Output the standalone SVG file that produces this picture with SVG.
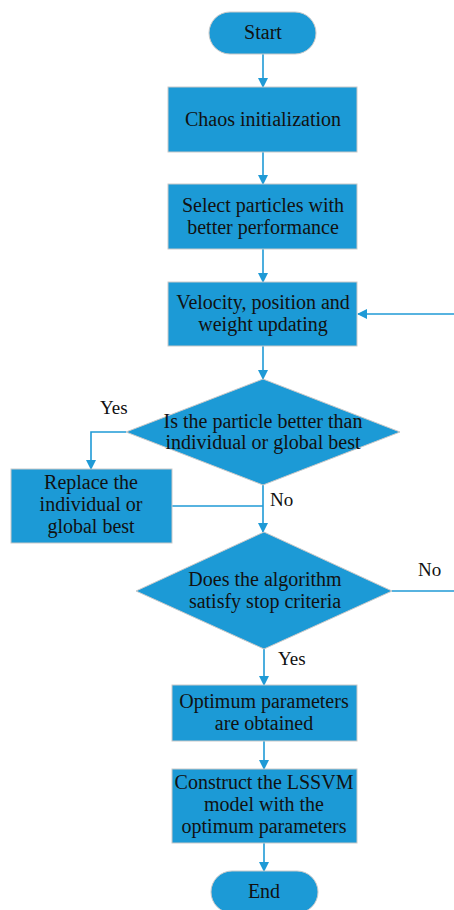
<svg xmlns="http://www.w3.org/2000/svg" width="454" height="910" viewBox="0 0 454 910">
<defs>
<style>
.n{fill:#1c9ad6;stroke:#c9c9c9;stroke-width:1}
.t{font-family:"Liberation Serif","DejaVu Serif",serif;font-size:20px;fill:#111;text-anchor:middle}
.l{font-family:"Liberation Serif","DejaVu Serif",serif;font-size:19px;fill:#111}
.c{fill:none;stroke:#1f9ad6;stroke-width:1.6}
</style>
<marker id="a" markerWidth="10" markerHeight="10" refX="9" refY="5" orient="auto" markerUnits="userSpaceOnUse">
<path d="M0,0 L10,5 L0,10 Z" fill="#1f9ad6"/>
</marker>
</defs>
<rect width="454" height="910" fill="#fff"/>
<g id="connectors">
<path class="c" d="M263,54 V87" marker-end="url(#a)"/>
<path class="c" d="M263,152 V184" marker-end="url(#a)"/>
<path class="c" d="M263,249 V282" marker-end="url(#a)"/>
<path class="c" d="M263,346 V379" marker-end="url(#a)"/>
<path class="c" d="M126,432 H91 V469" marker-end="url(#a)"/>
<path class="c" d="M263,485 V532" marker-end="url(#a)"/>
<path class="c" d="M172,506 H263"/>
<path class="c" d="M392,591 H454"/>
<path class="c" d="M454,314 H358" marker-end="url(#a)"/>
<path class="c" d="M264,649 V685" marker-end="url(#a)"/>
<path class="c" d="M264,741 V769" marker-end="url(#a)"/>
<path class="c" d="M264,843 V871" marker-end="url(#a)"/>
<text class="l" x="100" y="414">Yes</text>
<text class="l" x="270" y="506">No</text>
<text class="l" x="418" y="576">No</text>
<text class="l" x="278" y="665">Yes</text>
</g>
<g id="start"><rect class="n" x="209" y="12" width="107" height="42" rx="21"/><text class="t" x="263" y="39">Start</text></g>
<g id="chaos"><rect class="n" x="168" y="87" width="189" height="65"/><text class="t" x="263" y="126">Chaos initialization</text></g>
<g id="select"><rect class="n" x="168" y="184" width="189" height="65"/><text class="t" x="263" y="212">Select particles with</text><text class="t" x="263" y="234">better performance</text></g>
<g id="velocity"><rect class="n" x="168" y="282" width="189" height="64"/><text class="t" x="263" y="309">Velocity, position and</text><text class="t" x="263" y="331">weight updating</text></g>
<g id="decision1"><polygon class="n" points="263,379 400,432 263,485 126,432"/><text class="t" x="263" y="428">Is the particle better than</text><text class="t" x="263" y="449">individual or global best</text></g>
<g id="replace"><rect class="n" x="11" y="469" width="161" height="74"/><text class="t" x="91" y="489">Replace the</text><text class="t" x="91" y="511">individual or</text><text class="t" x="91" y="533">global best</text></g>
<g id="decision2"><polygon class="n" points="264,532 392,591 264,649 136,591"/><text class="t" x="265" y="586">Does the algorithm</text><text class="t" x="265" y="608">satisfy stop criteria</text></g>
<g id="optimum"><rect class="n" x="172" y="685" width="185" height="56"/><text class="t" x="264" y="708">Optimum parameters</text><text class="t" x="264" y="730">are obtained</text></g>
<g id="construct"><rect class="n" x="172" y="769" width="185" height="74"/><text class="t" x="264" y="789">Construct the LSSVM</text><text class="t" x="264" y="811">model with the</text><text class="t" x="264" y="833">optimum parameters</text></g>
<g id="end"><rect class="n" x="211" y="871" width="107" height="42" rx="21"/><text class="t" x="264" y="898">End</text></g>
</svg>
